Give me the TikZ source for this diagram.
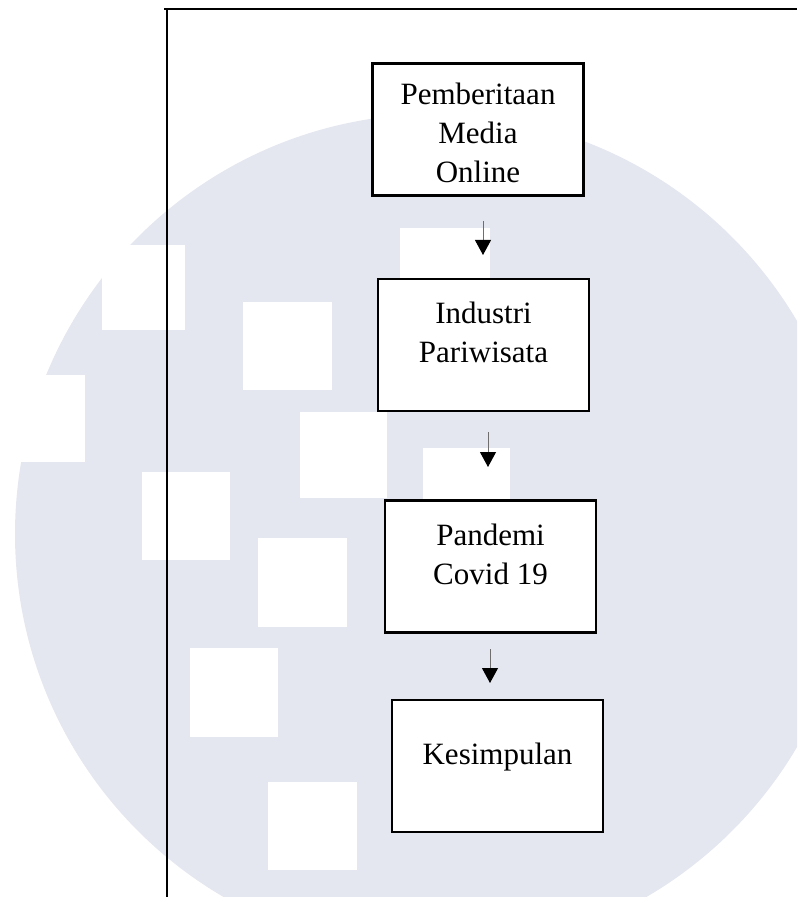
\documentclass[tikz,border=0pt]{standalone}
\usepackage{fontspec}
\setmainfont{Liberation Serif}
\usetikzlibrary{arrows.meta}
\definecolor{wmark}{RGB}{228,231,240}
\definecolor{shaft}{RGB}{110,110,110}

\begin{document}
\begin{tikzpicture}[x=0.5pt,y=-0.5pt,
  box/.style={draw,line width=1.2pt,fill=white,inner sep=0pt,minimum width=105.5pt,minimum height=66pt},
  lbl/.style={anchor=north,align=center,inner sep=0pt,font=\fontsize{15.5}{19.5}\selectfont},
  arr/.style={draw=shaft,line width=0.5pt,-{Triangle[length=7.5pt,width=8pt,color=black,fill=black]}},
  sq/.style={fill=white}]

\useasboundingbox (0,0) rectangle (797,897);
\clip (0,0) rectangle (797,897);

% watermark behind
\fill[wmark] (435,534) circle (210pt);
\fill[sq] (102,245) rectangle (185,330);
\fill[sq] (-5,375) rectangle (85,462);
\fill[sq] (243,302) rectangle (332,390);
\fill[sq] (300,412) rectangle (387,498);
\fill[sq] (142,472) rectangle (230,560);
\fill[sq] (258,538) rectangle (347,627);
\fill[sq] (190,648) rectangle (278,737);
\fill[sq] (268,782) rectangle (357,870);
\fill[sq] (400,228) rectangle (490,315);
\fill[sq] (423,448) rectangle (510,535);

% frame
\draw[line width=1.4pt] (164,9) -- (797,9);
\draw[line width=1pt] (167,9) -- (167,897);

\node[box] (b1) at (478,129.5) {};
\node[box] (b2) at (483.5,345) {};
\node[box] (b3) at (490.5,566.5) {};
\node[box] (b4) at (497.5,766) {};

\node[lbl] (t1) at ([yshift=-10pt]b1.north) {Pemberitaan\\Media\\Online};
\node[lbl] (t2) at ([yshift=-12pt]b2.north) {Industri\\Pariwisata};
\node[lbl] (t3) at ([yshift=-12pt]b3.north) {Pandemi\\Covid 19};
\node[lbl] (t4) at ([yshift=-22pt]b4.north) {Kesimpulan};

\coordinate (a1) at (483,221);
\coordinate (a1e) at (483,255);
\coordinate (a2) at (488,432);
\coordinate (a2e) at (488,467);
\coordinate (a3) at (490,649);
\coordinate (a3e) at (490,683);

\draw[arr] (a1) -- (a1e);
\draw[arr] (a2) -- (a2e);
\draw[arr] (a3) -- (a3e);

\end{tikzpicture}
\end{document}
